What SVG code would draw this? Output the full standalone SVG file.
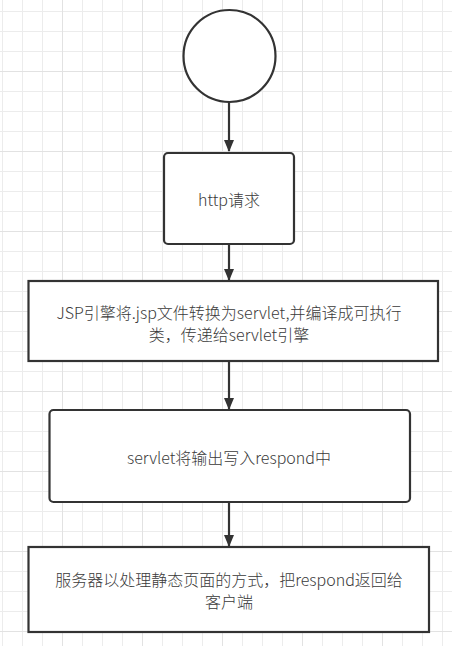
<svg xmlns="http://www.w3.org/2000/svg" width="452" height="646" viewBox="0 0 452 646">
<defs>
<pattern id="grid" x="2" y="11" width="20" height="20" patternUnits="userSpaceOnUse">
<path d="M0.5 0V20M0 0.5H20" stroke="#ececec" stroke-width="1" fill="none"/>
</pattern>
<pattern id="major" x="2" y="11" width="80" height="80" patternUnits="userSpaceOnUse">
<path d="M60.5 0V80M0 60.5H80" stroke="#e2e2e2" stroke-width="1" fill="none"/>
</pattern>
<marker id="arr" markerWidth="12" markerHeight="12" viewBox="0 0 12 12" refX="11" refY="6" orient="auto" markerUnits="userSpaceOnUse">
<path d="M0 1L12 6L0 11Z" fill="#333"/>
</marker>
</defs>
<style>
.shape{fill:#fff;stroke:#333;stroke-width:2.2}
.lbl{font-family:"Microsoft YaHei","Noto Sans CJK SC",sans-serif;font-size:16px;font-weight:300;fill:#3a3a3a;text-anchor:middle;dominant-baseline:central}
.edge{stroke:#333;stroke-width:2.2;fill:none;marker-end:url(#arr)}
</style>
<rect width="452" height="646" fill="#fff"/>
<rect width="452" height="646" fill="url(#grid)"/>
<rect width="452" height="646" fill="url(#major)"/>
<g id="connectors">
<path class="edge" d="M229 102V151"/>
<path class="edge" d="M229 244V280"/>
<path class="edge" d="M229 361V409"/>
<path class="edge" d="M229 502V546"/>
</g>
<g id="start">
<circle class="shape" cx="229.5" cy="56" r="46"/>
</g>
<g id="http">
<rect class="shape" x="164" y="153" width="130" height="91" rx="4"/>
<text class="lbl" x="229" y="199">http请求</text>
</g>
<g id="jsp">
<rect class="shape" x="28.5" y="281" width="409.5" height="80"/>
<text class="lbl" x="229" y="311.5">JSP引擎将.jsp文件转换为servlet,并编译成可执行</text>
<text class="lbl" x="229" y="334">类，传递给servlet引擎</text>
</g>
<g id="servlet">
<rect class="shape" x="49.5" y="410" width="360.5" height="92" rx="4"/>
<text class="lbl" x="229" y="457">servlet将输出写入respond中</text>
</g>
<g id="server">
<rect class="shape" x="28.5" y="547" width="400.5" height="85"/>
<text class="lbl" x="229" y="578.5">服务器以处理静态页面的方式，把respond返回给</text>
<text class="lbl" x="229" y="601">客户端</text>
</g>
</svg>
